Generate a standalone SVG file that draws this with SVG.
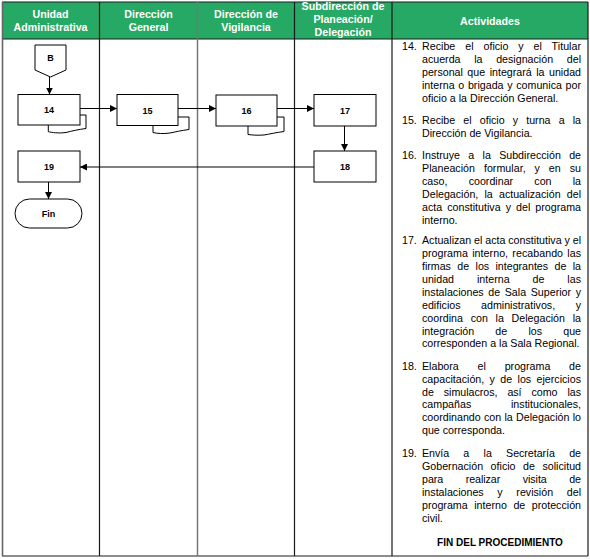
<svg xmlns="http://www.w3.org/2000/svg" width="590" height="559" viewBox="0 0 590 559">
<style>
text{font-family:"Liberation Sans",Arial,sans-serif;fill:#000}
.h{font-size:10.67px;font-weight:bold;fill:#fff;text-anchor:middle}
.n{font-size:9px;font-weight:bold;text-anchor:middle}
.t{font-size:10.67px}
.f{font-size:10px;font-weight:bold;text-anchor:middle}
.box{fill:#fff;stroke:#000;stroke-width:1}
.grid{stroke:#1a1a1a;stroke-width:1.2;fill:none}
.con{stroke:#000;stroke-width:1;fill:none;marker-end:url(#ah)}
</style>
<defs>
<marker id="ah" markerUnits="userSpaceOnUse" markerWidth="7" markerHeight="7" refX="7" refY="3.5" orient="auto">
<path d="M0,0 L7,3.5 L0,7 z" fill="#000"/>
</marker>
</defs>
<rect x="0" y="0" width="590" height="559" fill="#fff"/>
<g id="table">
<rect x="2" y="2" width="586" height="37" fill="#26a964"/>
<line class="grid" x1="2" y1="2" x2="588" y2="2"/>
<line class="grid" x1="2" y1="39" x2="588" y2="39"/>
<line class="grid" x1="2" y1="556" x2="588" y2="556"/>
<line x1="2.5" y1="2" x2="2.5" y2="556" stroke="#666" stroke-width="1.6"/>
<line class="grid" x1="588" y1="2" x2="588" y2="556"/>
<line class="grid" x1="99.5" y1="2" x2="99.5" y2="556"/>
<line x1="197.5" y1="2" x2="197.5" y2="556" stroke="#777" stroke-width="1.5"/>
<line class="grid" x1="294.5" y1="2" x2="294.5" y2="556"/>
<line class="grid" x1="392" y1="2" x2="392" y2="556"/>
<text class="h" x="50.5" y="18">Unidad</text>
<text class="h" x="50.5" y="30.5">Administrativa</text>
<text class="h" x="148.5" y="18">Dirección</text>
<text class="h" x="148.5" y="30.5">General</text>
<text class="h" x="246" y="18">Dirección de</text>
<text class="h" x="246" y="30.5">Vigilancia</text>
<text class="h" x="343" y="10">Subdirección de</text>
<text class="h" x="343" y="22.5">Planeación/</text>
<text class="h" x="343" y="35.5">Delegación</text>
<text class="h" x="490" y="25">Actividades</text>
</g>
<g id="connectors">
<line class="con" x1="49.5" y1="77" x2="49.5" y2="94.5"/>
<line class="con" x1="80" y1="108.5" x2="117" y2="108.5"/>
<line class="con" x1="178" y1="108.5" x2="216" y2="108.5"/>
<line class="con" x1="277" y1="108.5" x2="314" y2="108.5"/>
<line class="con" x1="344.5" y1="126" x2="344.5" y2="151"/>
<line class="con" x1="314" y1="167" x2="80" y2="167"/>
<line class="con" x1="48.5" y1="182" x2="48.5" y2="199"/>
</g>
<g id="nodeB">
<path class="box" d="M35,45 H66 V70 L50.5,77 L35,70 Z"/>
<text class="n" x="50.5" y="60.5">B</text>
</g>
<g id="node14">
<path class="box" d="M80,115 H86 V128.5 C78,129.5 72,131 66,132.5 C58,133.5 52,132.5 48.3,131.7 V125"/>
<rect class="box" x="18" y="94.5" width="62" height="30.5"/>
<text class="n" x="49" y="113">14</text>
</g>
<g id="node15">
<path class="box" d="M178,117 H189 V129.5 C181,130.5 175,132 170,133 C163,134 157,133.5 153,132.5 V125.5"/>
<rect class="box" x="117" y="94.5" width="61" height="31"/>
<text class="n" x="147.5" y="113.5">15</text>
</g>
<g id="node16">
<path class="box" d="M277,117 H284 V131.5 C276,132.5 270,134 264,135 C257,135.5 252,135 248,134.5 V126"/>
<rect class="box" x="216" y="95" width="61" height="31"/>
<text class="n" x="246.5" y="114">16</text>
</g>
<g id="node17">
<rect class="box" x="314" y="94.5" width="62" height="31.5"/>
<text class="n" x="345" y="113.5">17</text>
</g>
<g id="node18">
<rect class="box" x="314" y="151" width="62" height="31"/>
<text class="n" x="345" y="170">18</text>
</g>
<g id="node19">
<rect class="box" x="18" y="151" width="62" height="31"/>
<text class="n" x="49" y="170">19</text>
</g>
<g id="nodeFin">
<rect class="box" x="15" y="199" width="67" height="29" rx="14.5" ry="14.5"/>
<text class="n" x="48.5" y="217">Fin</text>
</g>
<g id="actividades">
<text class="t" x="402" y="50.4">14.</text>
<text class="t" x="422" y="50.4" textLength="159" lengthAdjust="spacing" style="word-spacing:6.9px">Recibe el oficio y el Titular</text>
<text class="t" x="422" y="63.3" textLength="159" lengthAdjust="spacing" style="word-spacing:10.7px">acuerda la designación del</text>
<text class="t" x="422" y="76.2" textLength="159" lengthAdjust="spacing" style="word-spacing:1.5px">personal que integrará la unidad</text>
<text class="t" x="422" y="89.1" textLength="159" lengthAdjust="spacing" style="word-spacing:0.7px">interna o brigada y comunica por</text>
<text class="t" x="422" y="102">oficio a la Dirección General.</text>

<text class="t" x="402" y="124.2">15.</text>
<text class="t" x="422" y="124.2" textLength="159" lengthAdjust="spacing" style="word-spacing:5.15px">Recibe el oficio y turna a la</text>
<text class="t" x="422" y="137.1">Dirección de Vigilancia.</text>

<text class="t" x="402" y="159.4">16.</text>
<text class="t" x="422" y="159.4" textLength="159" lengthAdjust="spacing" style="word-spacing:5.35px">Instruye a la Subdirección de</text>
<text class="t" x="422" y="172.3" textLength="159" lengthAdjust="spacing" style="word-spacing:5.95px">Planeación formular, y en su</text>
<text class="t" x="422" y="185.2" textLength="159" lengthAdjust="spacing" style="word-spacing:18.2px">caso, coordinar con la</text>
<text class="t" x="422" y="198.1" textLength="159" lengthAdjust="spacing" style="word-spacing:3.2px">Delegación, la actualización del</text>
<text class="t" x="422" y="211" textLength="159" lengthAdjust="spacing" style="word-spacing:2.1px">acta constitutiva y del programa</text>
<text class="t" x="422" y="223.9">interno.</text>

<text class="t" x="402" y="244.2">17.</text>
<text class="t" x="422" y="244.2" textLength="159" lengthAdjust="spacing" style="word-spacing:-0.1px">Actualizan el acta constitutiva y el</text>
<text class="t" x="422" y="257.1" textLength="159" lengthAdjust="spacing" style="word-spacing:1.2px">programa interno, recabando las</text>
<text class="t" x="422" y="270" textLength="159" lengthAdjust="spacing" style="word-spacing:3.46px">firmas de los integrantes de la</text>
<text class="t" x="422" y="282.9" textLength="159" lengthAdjust="spacing" style="word-spacing:20px">unidad interna de las</text>
<text class="t" x="422" y="295.8" textLength="159" lengthAdjust="spacing" style="word-spacing:1.65px">instalaciones de Sala Superior y</text>
<text class="t" x="422" y="308.7" textLength="159" lengthAdjust="spacing" style="word-spacing:17.55px">edificios administrativos, y</text>
<text class="t" x="422" y="321.6" textLength="159" lengthAdjust="spacing" style="word-spacing:4.75px">coordina con la Delegación la</text>
<text class="t" x="422" y="334.5" textLength="159" lengthAdjust="spacing" style="word-spacing:18.2px">integración de los que</text>
<text class="t" x="422" y="347.4">corresponden a la Sala Regional.</text>

<text class="t" x="402" y="369.7">18.</text>
<text class="t" x="422" y="369.7" textLength="159" lengthAdjust="spacing" style="word-spacing:15.8px">Elabora el programa de</text>
<text class="t" x="422" y="382.6" textLength="159" lengthAdjust="spacing" style="word-spacing:2.4px">capacitación, y de los ejercicios</text>
<text class="t" x="422" y="395.5" textLength="159" lengthAdjust="spacing" style="word-spacing:7px">de simulacros, así como las</text>
<text class="t" x="422" y="408.4" textLength="159" lengthAdjust="spacing" style="word-spacing:36.8px">campañas institucionales,</text>
<text class="t" x="422" y="421.3" textLength="159" lengthAdjust="spacing" style="word-spacing:0.3px">coordinando con la Delegación lo</text>
<text class="t" x="422" y="434.2">que corresponda.</text>

<text class="t" x="402" y="457.2">19.</text>
<text class="t" x="422" y="457.2" textLength="159" lengthAdjust="spacing" style="word-spacing:11.4px">Envía a la Secretaría de</text>
<text class="t" x="422" y="470.1" textLength="159" lengthAdjust="spacing" style="word-spacing:4.6px">Gobernación oficio de solicitud</text>
<text class="t" x="422" y="483" textLength="159" lengthAdjust="spacing" style="word-spacing:19.6px">para realizar visita de</text>
<text class="t" x="422" y="495.9" textLength="159" lengthAdjust="spacing" style="word-spacing:10.7px">instalaciones y revisión del</text>
<text class="t" x="422" y="508.8" textLength="159" lengthAdjust="spacing" style="word-spacing:3.6px">programa interno de protección</text>
<text class="t" x="422" y="521.7">civil.</text>

<text class="f" x="500" y="546">FIN DEL PROCEDIMIENTO</text>
</g>
</svg>
